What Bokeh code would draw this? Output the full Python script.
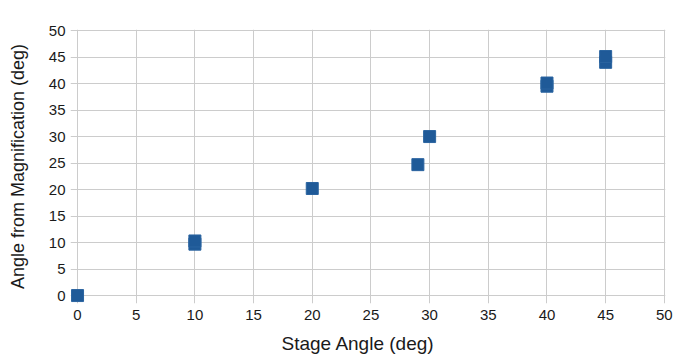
from bokeh.plotting import figure
from bokeh.models import Range1d, FixedTicker, Title
from bokeh.embed import file_html
from bokeh.resources import INLINE

stage_angle = [0, 10, 10, 20, 29, 30, 40, 40, 45, 45]
mag_angle = [0, 9.7, 10.3, 20.2, 24.7, 30.0, 39.5, 40.1, 44.0, 45.1]
y_ticks = list(range(0, 51, 5))
x_ticks = list(range(0, 51, 5))

GRID = "#cccccc"
TXT = "#1a1a1a"

p = figure(width=684, height=362, output_backend="svg", toolbar_location=None,
           x_range=Range1d(-0.6, 50.1), y_range=Range1d(-1.5, 50.2),
           min_border_left=70, min_border_right=19, min_border_top=29, min_border_bottom=58)
p.outline_line_color = None

for ax in (p.xaxis[0], p.yaxis[0]):
    ax.axis_line_color = None
    ax.major_tick_line_color = None
    ax.major_tick_out = 0
    ax.major_tick_in = 0
    ax.minor_tick_line_color = None
    ax.major_label_text_font = "Liberation Sans"
    ax.major_label_text_font_size = "15px"
    ax.major_label_text_color = TXT
    ax.axis_label_text_font = "Liberation Sans"
    ax.axis_label_text_font_style = "normal"
    ax.axis_label_text_color = TXT

p.xaxis[0].ticker = FixedTicker(ticks=x_ticks)
p.yaxis[0].ticker = FixedTicker(ticks=y_ticks)
p.xaxis.major_label_standoff = 6
p.yaxis.major_label_standoff = 5
p.yaxis.axis_label = "Angle from Magnification (deg)"
p.yaxis.axis_label_text_font_size = "18px"
p.yaxis.axis_label_standoff = 18

p.add_layout(Title(text="Stage Angle (deg)", align="left", offset=211,
                   text_font="Liberation Sans", text_font_size="19px",
                   text_font_style="normal", text_color=TXT, standoff=17), "below")

p.xgrid.ticker = FixedTicker(ticks=x_ticks)
p.ygrid.ticker = FixedTicker(ticks=y_ticks)
p.grid.grid_line_color = GRID
p.grid.grid_line_width = 1

p.scatter(stage_angle, mag_angle, marker="square", size=12,
          fill_color="#1f5a98", line_color="#2a64a0")

open("out.html", "w").write(file_html(p, INLINE))
